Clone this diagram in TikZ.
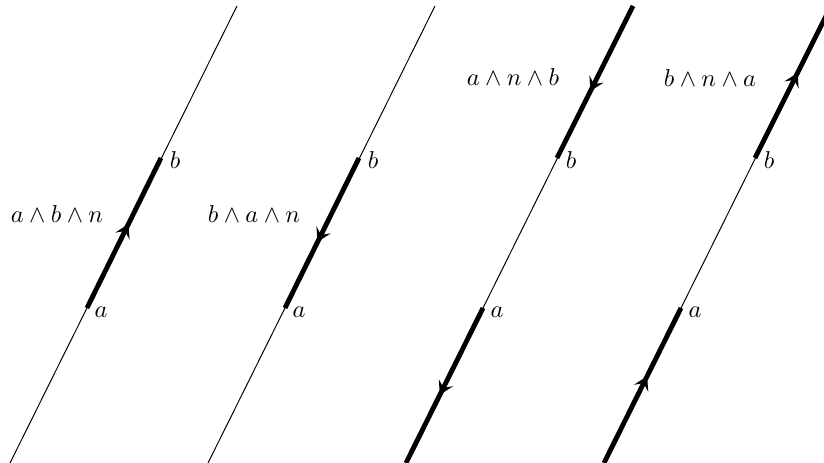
\documentclass[tikz,border=0pt]{standalone}
\usetikzlibrary{arrows.meta,decorations.markings,calc}
\begin{document}
\begin{tikzpicture}[x=0.41pt,y=-0.41pt,
  thinline/.style={line width=0.4pt},
  thickline/.style={line width=2pt},
  fwd/.style={thickline,postaction={decorate},decoration={markings,
    mark=at position 0.56 with {\arrow[line width=0.5pt]{Stealth[length=5.5pt,width=6.5pt,inset=2.3pt]}}}},
  lbl/.style={inner sep=0pt}]
\useasboundingbox (0,0) rectangle (824,463);
% panel coordinates
\foreach \i/\dx in {1/0,2/198,3/396,4/594}{
  \coordinate (B\i) at (10+\dx,463);
  \coordinate (A\i) at (87+\dx,308);
  \coordinate (C\i) at (161+\dx,158);
  \coordinate (T\i) at (237+\dx,6);
}
% thin full lines
\foreach \i in {1,2,3,4}{
  \draw[thinline] (B\i) -- (T\i);
}
% panel 1
\draw[fwd] (A1) -- (C1);
\node[lbl] (la1) at ($(A1)+(14,4)$) {$a$};
\node[lbl] (lb1) at ($(C1)+(14,2)$) {$b$};
\node[lbl] (w1) at (57,214) {$a\wedge b\wedge n$};
% panel 2
\draw[fwd] (C2) -- (A2);
\node[lbl] (la2) at ($(A2)+(14,4)$) {$a$};
\node[lbl] (lb2) at ($(C2)+(14,2)$) {$b$};
\node[lbl] (w2) at (254,214) {$b\wedge a\wedge n$};
% panel 3
\draw[fwd] (T3) -- (C3);
\draw[fwd] (A3) -- (B3);
\node[lbl] (la3) at ($(A3)+(14,4)$) {$a$};
\node[lbl] (lb3) at ($(C3)+(14,2)$) {$b$};
\node[lbl] (w3) at (513,77) {$a\wedge n\wedge b$};
% panel 4
\draw[fwd] (C4) -- (T4);
\draw[fwd] (B4) -- (A4);
\node[lbl] (la4) at ($(A4)+(14,4)$) {$a$};
\node[lbl] (lb4) at ($(C4)+(14,2)$) {$b$};
\node[lbl] (w4) at (710,78) {$b\wedge n\wedge a$};
\end{tikzpicture}
\end{document}
